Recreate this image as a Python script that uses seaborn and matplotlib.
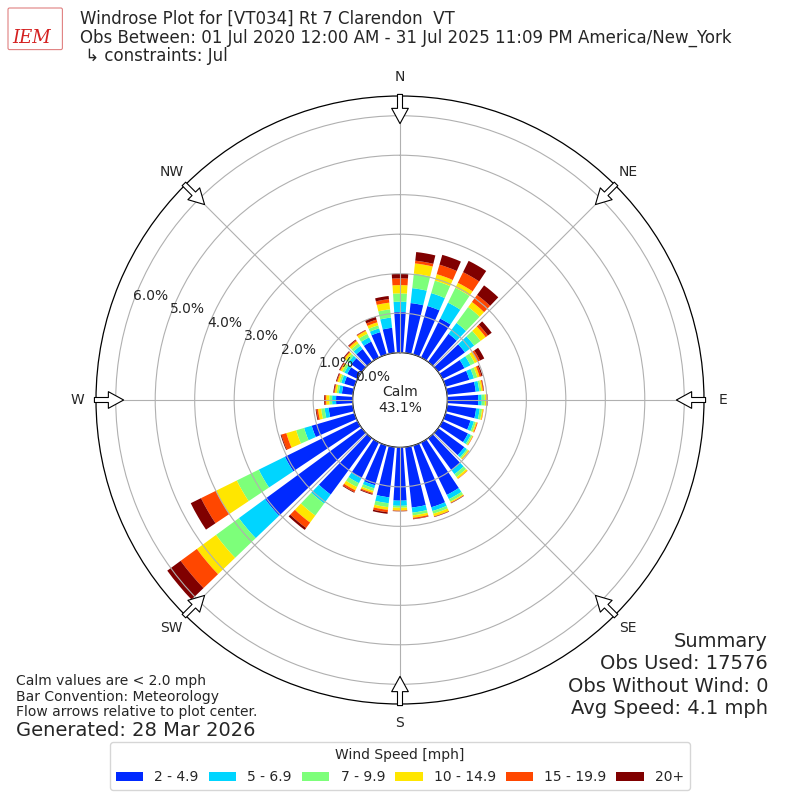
import numpy as np
import matplotlib
matplotlib.use("Agg")
import matplotlib.pyplot as plt
from matplotlib.patches import FancyBboxPatch
import seaborn as sns

# direction bins (degrees, meteorological convention) and frequencies (%)
directions = [0, 10, 20, 30, 40, 50, 60, 70, 80, 90, 100, 110, 120, 130, 140, 150, 160, 170,
              180, 190, 200, 210, 220, 230, 240, 250, 260, 270, 280, 290, 300, 310, 320, 330, 340, 350]
speed_bins = ["2 - 4.9", "5 - 6.9", "7 - 9.9", "10 - 14.9", "15 - 19.9", "20+"]
spd_2_5 = [1.03, 1.27, 1.28, 1.10, 0.88, 0.84, 0.62, 0.63, 0.73, 0.78, 0.74, 0.66, 0.72, 0.82, 1.00, 1.48, 1.63, 1.54,
           1.35, 1.28, 1.05, 1.01, 1.77, 3.04, 2.05, 1.13, 0.62, 0.42, 0.28, 0.27, 0.29, 0.33, 0.40, 0.45, 0.59, 0.64]
spd_5_7 = [0.26, 0.38, 0.34, 0.45, 0.34, 0.29, 0.17, 0.12, 0.09, 0.09, 0.09, 0.09, 0.08, 0.08, 0.13, 0.12, 0.10, 0.13,
           0.13, 0.15, 0.08, 0.14, 0.28, 0.82, 0.74, 0.20, 0.10, 0.10, 0.08, 0.08, 0.08, 0.09, 0.10, 0.12, 0.10, 0.26]
spd_7_10 = [0.21, 0.37, 0.33, 0.42, 0.50, 0.20, 0.12, 0.09, 0.05, 0.08, 0.06, 0.05, 0.04, 0.04, 0.09, 0.07, 0.07, 0.07,
            0.05, 0.10, 0.07, 0.11, 0.38, 0.72, 0.62, 0.21, 0.09, 0.07, 0.05, 0.05, 0.06, 0.07, 0.08, 0.10, 0.08, 0.21]
spd_10_15 = [0.21, 0.26, 0.17, 0.14, 0.16, 0.16, 0.08, 0.06, 0.04, 0.04, 0.03, 0.03, 0.02, 0.03, 0.05, 0.03, 0.07, 0.06,
             0.07, 0.07, 0.05, 0.09, 0.22, 0.60, 0.59, 0.26, 0.08, 0.08, 0.05, 0.05, 0.05, 0.06, 0.07, 0.08, 0.08, 0.17]
spd_15_20 = [0.17, 0.07, 0.25, 0.30, 0.22, 0.07, 0.07, 0.05, 0.02, 0.02, 0.01, 0.02, 0.01, 0.01, 0.01, 0.01, 0.01, 0.03,
             0.01, 0.06, 0.03, 0.05, 0.17, 0.51, 0.42, 0.13, 0.04, 0.03, 0.02, 0.02, 0.02, 0.02, 0.03, 0.02, 0.07, 0.09]
spd_20_up = [0.12, 0.22, 0.26, 0.32, 0.30, 0.12, 0.12, 0.03, 0.01, 0.01, 0.00, 0.00, 0.00, 0.00, 0.00, 0.01, 0.01, 0.01,
             0.01, 0.04, 0.02, 0.02, 0.06, 0.42, 0.29, 0.02, 0.02, 0.02, 0.02, 0.02, 0.02, 0.02, 0.02, 0.01, 0.08, 0.08]
calm_pct = 43.1
rings = [0, 1, 2, 3, 4, 5, 6]
compass_deg = [0, 45, 90, 135, 180, 225, 270, 315]
compass_lbl = ["N", "NE", "E", "SE", "S", "SW", "W", "NW"]
summary_lines = ["Summary", "Obs Used: 17576", "Obs Without Wind: 0", "Avg Speed: 4.1 mph"]

sns.set_style("white")
plt.rcParams["font.family"] = ["DejaVu Sans"]
plt.rcParams["axes.axisbelow"] = False

jet = matplotlib.colormaps["jet"]
colors = sns.color_palette([jet(v) for v in np.linspace(0, 1, 7)[1:]])

fig = plt.figure(figsize=(8, 8), dpi=100)
ax = fig.add_axes([0.12, 0.12, 0.76, 0.76], projection="polar")
ax.set_theta_zero_location("N")
ax.set_theta_direction(-1)

theta = np.deg2rad(directions)
series = [spd_2_5, spd_5_7, spd_7_10, spd_10_15, spd_15_20, spd_20_up]
bottom = np.zeros(len(directions))
for vals, col, lab in zip(series, colors, speed_bins):
    ax.bar(theta, vals, width=np.deg2rad(7.5), bottom=bottom, color=col,
           edgecolor="none", label=lab, zorder=1)
    bottom = bottom + np.array(vals)

ax.set_rorigin(-1.2)
ax.set_ylim(0, 6.5)
ax.set_yticks(rings)
ax.set_yticklabels([])
ax.set_xticks(np.deg2rad(compass_deg))
ax.set_xticklabels(compass_lbl, fontsize=10)
ax.tick_params(axis="x", pad=3)
ax.grid(True, color="#b0b0b0", lw=0.8)
for sp in ax.spines.values():
    sp.set_color("black")
    sp.set_linewidth(0.9)

# radial labels
for r in rings:
    ax.text(np.deg2rad(290), r, f"{r:.1f}%", ha="left", va="bottom", fontsize=10)

# flow arrows
for d in compass_deg:
    ax.annotate("", xy=(np.deg2rad(d), 5.80), xytext=(np.deg2rad(d), 6.54),
                arrowprops=dict(arrowstyle="simple,head_length=1.1,head_width=1.2,tail_width=0.36",
                                fc="white", ec="black", lw=0.8, shrinkA=0, shrinkB=0,
                                mutation_scale=10),
                annotation_clip=False, zorder=5)

ax.text(0.5, 0.5, f"Calm\n{calm_pct:.1f}%", transform=ax.transAxes,
        ha="center", va="center", fontsize=10)

# header
fig.text(0.1, 0.988,
         "Windrose Plot for [VT034] Rt 7 Clarendon  VT\n"
         "Obs Between: 01 Jul 2020 12:00 AM - 31 Jul 2025 11:09 PM America/New_York\n"
         " \u21b3 constraints: Jul",
         fontsize=12, va="top", linespacing=1.05)
fig.patches.append(FancyBboxPatch((0.012, 0.94), 0.064, 0.048, boxstyle="round,pad=0.002",
                                  transform=fig.transFigure, fc="none", ec="#e08080", lw=0.8))
fig.text(0.039, 0.952, "IEM", color="#d42020", fontsize=13, family="DejaVu Serif",
         style="italic", ha="center", va="center")

# summary block, one line per text
for i, line in enumerate(summary_lines):
    fig.text(0.96, 0.19125 - i * 0.028, line, ha="right", va="baseline", fontsize=14)

fig.text(0.02, 0.101, "Calm values are < 2.0 mph\nBar Convention: Meteorology\n"
         "Flow arrows relative to plot center.", ha="left", va="bottom", fontsize=10,
         linespacing=1.15)
fig.text(0.02, 0.0875, "Generated: 28 Mar 2026", ha="left", va="center", fontsize=14)

handles, labels = ax.get_legend_handles_labels()
fig.legend(handles, labels, title="Wind Speed [mph]", ncol=6, loc="lower center",
           bbox_to_anchor=(0.5, 0.004), fontsize=10, title_fontsize=10,
           columnspacing=0.7, labelspacing=0.6)

fig.savefig("out.png", dpi=100)
